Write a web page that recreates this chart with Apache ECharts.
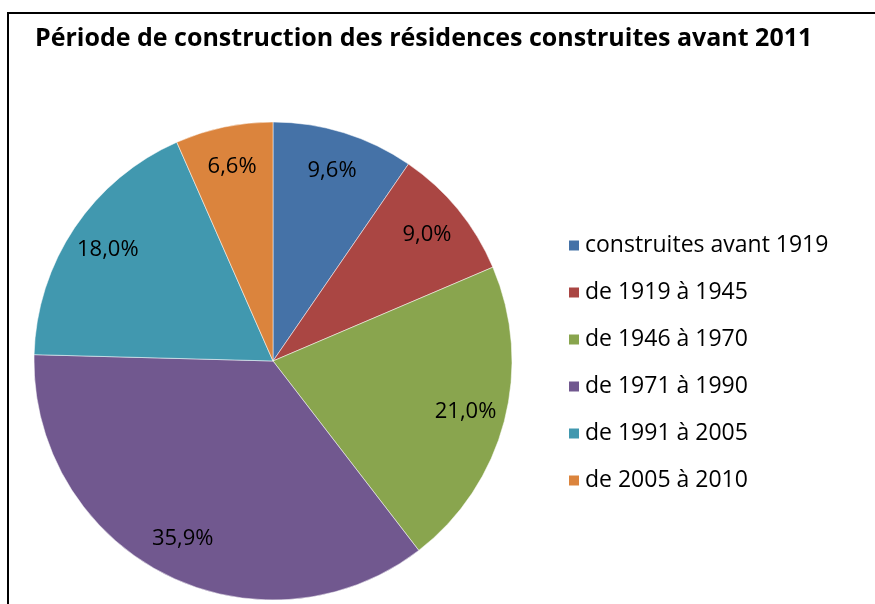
<!DOCTYPE html>
<html>
<head>
<meta charset="utf-8">
<script src="https://cdn.jsdelivr.net/npm/echarts@6/dist/echarts.min.js"></script>
<style>
  html, body { margin: 0; padding: 0; background: #fff; }
  #chart { width: 875px; height: 604px; }
</style>
</head>
<body>
<div id="chart"></div>
<script>
let categories = ['construites avant 1919', 'de 1919 à 1945', 'de 1946 à 1970', 'de 1971 à 1990', 'de 1991 à 2005', 'de 2005 à 2010'];
let values = [9.6, 9.0, 21.0, 35.9, 18.0, 6.6];
let colors = ['#4572A7', '#AA4643', '#89A54E', '#71588F', '#4198AF', '#DB843D'];

let pieData = categories.map(function(name, i){
  return { name: name, value: values[i], itemStyle: { color: colors[i] } };
});

let mychart = echarts.init(document.getElementById('chart'));
mychart.setOption({
  animation: false,
  title: {
    text: 'Période de construction des résidences construites avant 2011',
    left: 30,
    top: 21,
    textStyle: {
      fontFamily: 'Open Sans',
      fontSize: 25,
      fontWeight: 'bold',
      color: '#000'
    }
  },
  legend: {
    orient: 'vertical',
    left: 562,
    top: 229,
    icon: 'rect',
    itemWidth: 12,
    itemHeight: 12,
    itemGap: 24,
    data: categories,
    textStyle: {
      fontFamily: 'Open Sans',
      fontSize: 23,
      color: '#000'
    }
  },
  graphic: [{
    type: 'rect',
    shape: { x: 8, y: 13, width: 900, height: 640 },
    style: { fill: 'none', stroke: '#000', lineWidth: 2 },
    silent: true
  }],
  series: [
    {
      type: 'pie',
      center: [273, 361],
      radius: [0, 239],
      startAngle: 90,
      clockwise: true,
      data: pieData,
      label: { show: false },
      labelLine: { show: false },
      itemStyle: { borderColor: '#fff', borderWidth: 0.5 }
    },
    {
      // transparent copy that only carries the value labels
      type: 'pie',
      center: [273, 361],
      radius: [0, 392],
      startAngle: 90,
      clockwise: true,
      silent: true,
      data: categories.map(function(name, i){ return { name: name, value: values[i] }; }),
      itemStyle: { color: 'rgba(0,0,0,0)' },
      label: {
        show: true,
        position: 'inside',
        fontFamily: 'Open Sans',
        fontSize: 22,
        color: '#000',
        formatter: function(p){ return p.value.toFixed(1).replace('.', ',') + '%'; }
      },
      labelLine: { show: false }
    }
  ]
});
</script>
</body>
</html>
